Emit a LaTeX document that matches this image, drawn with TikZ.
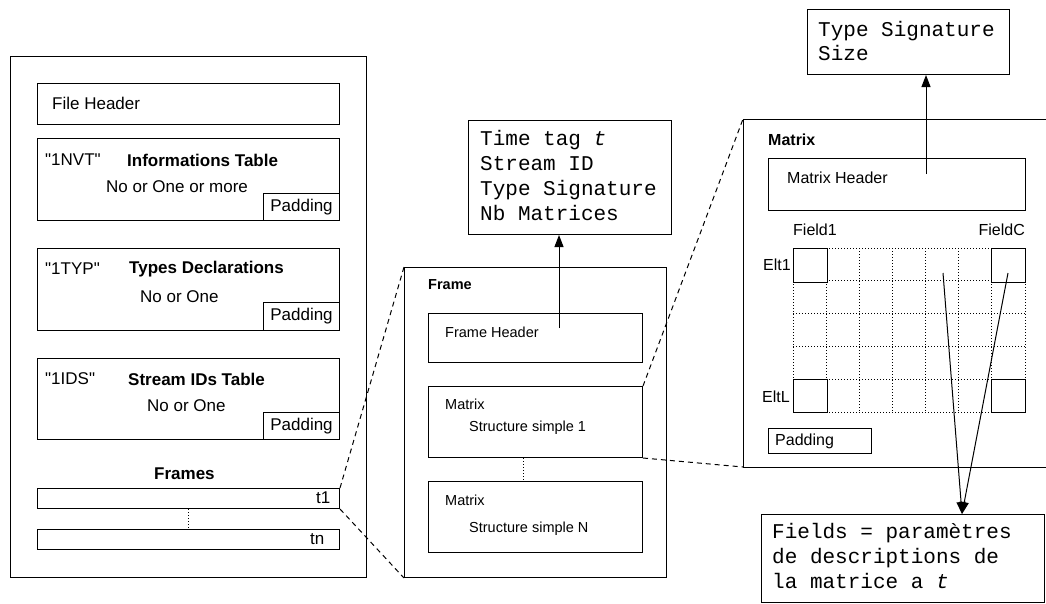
\documentclass[tikz,border=0pt]{standalone}
\usepackage{fontspec}
\setmainfont{Liberation Sans}
\newfontfamily\monofnt{Liberation Mono}
\usetikzlibrary{arrows.meta}
\begin{document}
\begin{tikzpicture}[x=1pt,y=-1pt,
  box/.style={draw, line width=1pt, inner sep=0pt, anchor=north west},
  bigfnt/.style={font=\fontsize{17}{20}\selectfont},
  midfnt/.style={font=\fontsize{16}{19}\selectfont},
  smlfnt/.style={font=\fontsize{14.5}{17}\selectfont},
  lbl/.style={inner sep=0pt, anchor=west},
  monobox/.style={inner sep=0pt, anchor=north west, align=left, font=\monofnt\fontsize{21}{25}\selectfont},
  zoomline/.style={dashed, dash pattern=on 5pt off 4pt, line width=1pt},
  dots/.style={dotted, line width=1pt},
  arr/.style={line width=1pt, -{Triangle[width=9pt,length=12pt]}}
]
\useasboundingbox (0,0) rectangle (1046,603);

% ---------------- left: file ----------------
\node[box, minimum width=356pt, minimum height=521pt] (file) at (10,56) {};
\node[box, minimum width=302pt, minimum height=41pt] (fh) at (37,83) {};
\node[lbl, bigfnt] (fht) at (52,103) {File Header};

\node[box, minimum width=302pt, minimum height=82pt] (nvt) at (37,138) {};
\node[box, minimum width=76pt, minimum height=27pt, bigfnt] (pad1) at (263,193) {Padding};
\node[lbl, bigfnt] (nvtk) at (45,160) {\textquotedbl 1NVT\textquotedbl};
\node[lbl, bigfnt] (nvtn) at (127,160) {\bfseries Informations Table};
\node[lbl, bigfnt] (nvtm) at (106,187) {No or One or more};

\node[box, minimum width=302pt, minimum height=82pt] (typ) at (37,248) {};
\node[box, minimum width=76pt, minimum height=28pt, bigfnt] (pad2) at (263,302) {Padding};
\node[lbl, bigfnt] (typk) at (45,269) {\textquotedbl 1TYP\textquotedbl};
\node[lbl, bigfnt] (typn) at (129,269) {\bfseries Types Declarations};
\node[lbl, bigfnt] (typm) at (140,297) {No or One};

\node[box, minimum width=302pt, minimum height=81pt] (ids) at (37,358) {};
\node[box, minimum width=76pt, minimum height=27pt, bigfnt] (pad3) at (263,412) {Padding};
\node[lbl, bigfnt] (idsk) at (45,379) {\textquotedbl 1IDS\textquotedbl};
\node[lbl, bigfnt] (idsn) at (128,379) {\bfseries Stream IDs Table};
\node[lbl, bigfnt] (idsm) at (147,406) {No or One};

\node[lbl, bigfnt] (frs) at (154,474) {\bfseries Frames};
\node[box, minimum width=302pt, minimum height=20pt] (t1) at (37,488) {};
\node[lbl, bigfnt] (t1t) at (316,498) {t1};
\node[box, minimum width=302pt, minimum height=20pt] (tn) at (37,529) {};
\node[lbl, bigfnt] (tnt) at (310,539) {tn};
\draw[dots] (t1.south -| 188,0) -- (tn.north -| 188,0);

% ---------------- middle: frame ----------------
\node[box, minimum width=262pt, minimum height=310pt] (frame) at (404,267) {};
\node[lbl, smlfnt] (frt) at (428,285) {\bfseries Frame};
\node[box, minimum width=214pt, minimum height=49pt] (frh) at (428,313) {};
\node[lbl, smlfnt] (frht) at (445,332) {Frame Header};
\node[box, minimum width=214pt, minimum height=71pt] (m1) at (428,386) {};
\node[lbl, smlfnt] (m1a) at (445,404) {Matrix};
\node[lbl, smlfnt] (m1b) at (469,428) {Structure simple 1};
\node[box, minimum width=214pt, minimum height=71pt] (mn) at (428,481) {};
\node[lbl, smlfnt] (mna) at (445,500) {Matrix};
\node[lbl, smlfnt] (mnb) at (469,529) {Structure simple N};
\draw[dots] (m1.south -| 523,0) -- (mn.north -| 523,0);

\node[box, minimum width=203pt, minimum height=114pt] (tt) at (468,120) {};
\node[monobox] (ttt) at (480,130) {Time tag \textit{t}\\Stream ID\\Type Signature\\Nb Matrices};
\coordinate (frhs) at (559,328);
\draw[arr] (frhs) -- (frhs |- tt.south);

% ---------------- right: matrix ----------------
\coordinate (matnw) at (743,119);
\coordinate (matsw) at (743,467);
\draw[line width=1pt] (1046,119) -- (matnw) -- (matsw) -- (1046,467);
\node[lbl, midfnt] (matt) at (768,140) {\bfseries Matrix};
\node[box, minimum width=257pt, minimum height=52pt] (mh) at (768,158) {};
\node[lbl, midfnt] (mht) at (787,178) {Matrix Header};
\node[box, minimum width=202pt, minimum height=65pt] (ts) at (807,9) {};
\node[monobox, font=\monofnt\fontsize{21}{24}\selectfont] (tst) at (818,21) {Type Signature\\Size};
\coordinate (mhs) at (926,174);
\draw[arr] (mhs) -- (mhs |- ts.south);

\node[lbl, midfnt] (f1) at (793,230) {Field1};
\node[lbl, midfnt, anchor=east] (fc) at (1025,230) {FieldC};
\node[lbl, midfnt] (e1) at (763,265) {Elt1};
\node[lbl, midfnt] (el) at (762,397) {EltL};

% grid
\foreach \i in {0,...,7} {
  \draw[dots] ({793+\i*33.143},248) -- ({793+\i*33.143},412);
}
\foreach \j in {0,...,5} {
  \draw[dots] (793,{248+\j*32.8}) -- (1025,{248+\j*32.8});
}
\node[box, fill=white, minimum width=34pt, minimum height=34pt] (c11) at (793,248) {};
\node[box, fill=white, minimum width=34pt, minimum height=34pt] (c1c) at (991,248) {};
\node[box, fill=white, minimum width=34pt, minimum height=33pt] (cl1) at (793,379) {};
\node[box, fill=white, minimum width=34pt, minimum height=33pt] (clc) at (991,379) {};

\node[box, minimum width=103pt, minimum height=25pt] (pad4) at (768,428) {};
\node[lbl, midfnt] (pad4t) at (775,441) {Padding};

\node[box, minimum width=283pt, minimum height=88pt] (fb) at (761,514) {};
\node[monobox] (fbt) at (772,523) {Fields = paramètres\\de descriptions de\\la matrice a \textit{t}};
\coordinate (fs1) at (943,273);
\coordinate (fs2) at (1008,273);
\coordinate (fbtip) at (962,514);
\draw[arr] (fs1) -- (fbtip);
\draw[arr] (fs2) -- (fbtip);

% ---------------- zoom lines ----------------
\draw[zoomline] (t1.north east) -- (frame.north west);
\draw[zoomline] (t1.south east) -- (frame.south west);
\draw[zoomline] (m1.north east) -- (matnw);
\draw[zoomline] (m1.south east) -- (matsw);
\end{tikzpicture}
\end{document}
